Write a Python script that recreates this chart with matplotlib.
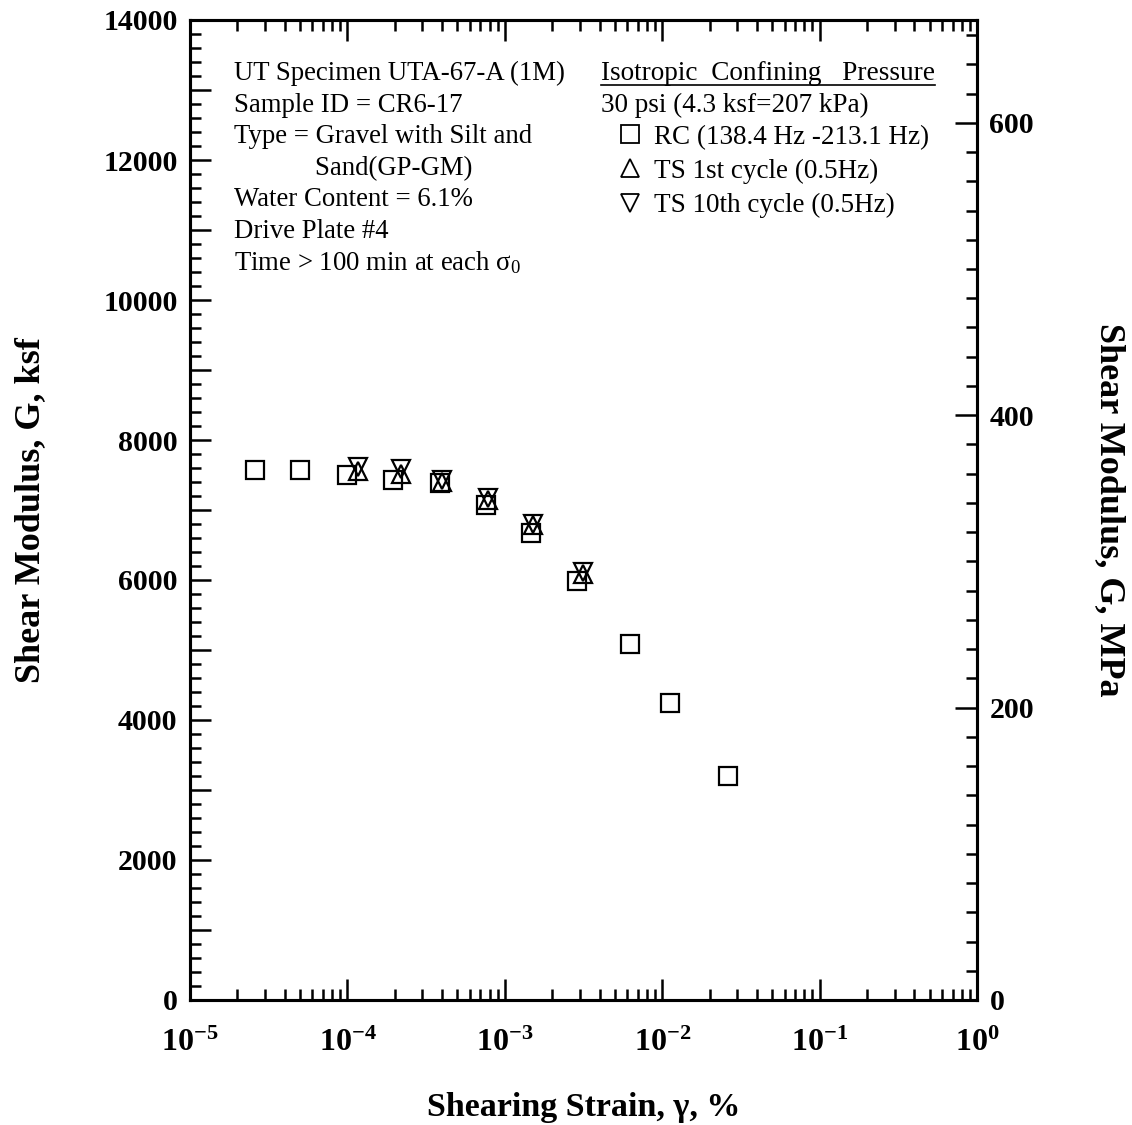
import matplotlib
matplotlib.use('Agg')
import matplotlib.pyplot as plt
from matplotlib.lines import Line2D
from matplotlib.ticker import LogLocator, MultipleLocator, NullFormatter

plt.rcParams['font.family'] = ['Liberation Serif', 'DejaVu Serif']
plt.rcParams['mathtext.fontset'] = 'custom'
plt.rcParams['mathtext.rm'] = 'Liberation Serif'
plt.rcParams['mathtext.it'] = 'Liberation Serif:italic'
plt.rcParams['mathtext.bf'] = 'Liberation Serif:bold'

# data (strain in %, G in ksf)
rc_strain = [2.6e-5, 5.0e-5, 9.9e-5, 1.96e-4, 3.85e-4, 7.6e-4, 1.47e-3, 2.88e-3, 6.2e-3, 1.12e-2, 2.63e-2]
rc_G = [7570, 7570, 7500, 7430, 7380, 7070, 6670, 5990, 5080, 4240, 3200]

ts1_strain = [1.17e-4, 2.18e-4, 4.0e-4, 7.8e-4, 1.51e-3, 3.14e-3]
ts1_G = [7560, 7510, 7400, 7150, 6780, 6090]

ts10_strain = [1.17e-4, 2.18e-4, 4.0e-4, 7.8e-4, 1.51e-3, 3.14e-3]
ts10_G = [7620, 7580, 7430, 7170, 6800, 6110]

info_lines = ['UT Specimen UTA-67-A (1M)', 'Sample ID = CR6-17', 'Type = Gravel with Silt and',
              '            Sand(GP-GM)', 'Water Content = 6.1%', 'Drive Plate #4',
              r'Time > 100 min at each σ$_0$']
legend_labels = ['RC (138.4 Hz -213.1 Hz)', 'TS 1st cycle (0.5Hz)', 'TS 10th cycle (0.5Hz)']

KSF_TO_MPA = 0.04788

fig = plt.figure(figsize=(11.32, 11.25), dpi=100)
ax = fig.add_axes([190 / 1132, 125 / 1125, 787 / 1132, 980 / 1125])

ms = 13
mew = 1.6
ax.plot(rc_strain, rc_G, ls='none', marker='s', ms=ms, mfc='none', mec='black', mew=mew)
ax.plot(ts1_strain, ts1_G, ls='none', marker='^', ms=ms, mfc='none', mec='black', mew=mew)
ax.plot(ts10_strain, ts10_G, ls='none', marker='v', ms=ms, mfc='none', mec='black', mew=mew)

ax.set_xscale('log')
ax.set_xlim(1e-5, 1)
ax.set_ylim(0, 14000)

ax.xaxis.set_minor_locator(LogLocator(base=10, subs=range(2, 10), numticks=20))
ax.xaxis.set_minor_formatter(NullFormatter())
ax.set_xticks([1e-5, 1e-4, 1e-3, 1e-2, 1e-1, 1])
ax.set_xticklabels([r'$\mathbf{10^{-5}}$', r'$\mathbf{10^{-4}}$', r'$\mathbf{10^{-3}}$',
                    r'$\mathbf{10^{-2}}$', r'$\mathbf{10^{-1}}$', r'$\mathbf{10^{0}}$'])

ax.yaxis.set_major_locator(MultipleLocator(1000))
ax.yaxis.set_minor_locator(MultipleLocator(200))

for s in ax.spines.values():
    s.set_linewidth(2.2)

ax.tick_params(which='both', direction='in', top=True, right=False, width=1.8)
ax.tick_params(which='major', length=15)
ax.tick_params(which='minor', length=8)
ax.tick_params(axis='y', which='major', labelsize=21.5, pad=9)
ax.tick_params(axis='x', which='major', labelsize=23, pad=21)

# label only the even thousands, shorter ticks at odd thousands
ax.yaxis.set_major_formatter(plt.FuncFormatter(lambda v, p: '%d' % v if int(v) % 2000 == 0 else ''))
for t in ax.yaxis.get_major_ticks():
    if int(round(t.get_loc())) % 2000 != 0:
        t.tick1line.set_markersize(11)
for lab in ax.get_yticklabels():
    lab.set_fontweight('bold')

ax2 = ax.twinx()
ax2.set_ylim(0, 14000 * KSF_TO_MPA)
ax2.yaxis.set_major_locator(MultipleLocator(200))
ax2.yaxis.set_minor_locator(MultipleLocator(20))
ax2.tick_params(which='both', direction='in', width=1.8)
ax2.tick_params(which='major', length=16, labelsize=21.5, pad=9)
ax2.tick_params(which='minor', length=8)
for lab in ax2.get_yticklabels():
    lab.set_fontweight('bold')
for s in ax2.spines.values():
    s.set_linewidth(2.2)

ax.set_xlabel('Shearing Strain, γ, %', fontsize=24.5, fontweight='bold', labelpad=24)
ax.set_ylabel('Shear Modulus, G, ksf', fontsize=26, fontweight='bold', labelpad=40)
ax2.set_ylabel('Shear Modulus, G, MPa', fontsize=26, fontweight='bold', rotation=-90, labelpad=66)

# sample info block
for i, line in enumerate(info_lines):
    ax.text(0.0559, 0.945 - i * 0.0321, line, transform=ax.transAxes, fontsize=19.3,
            ha='left', va='center')

hdr = ax.text(0.522, 0.945, 'Isotropic  Confining   Pressure', transform=ax.transAxes,
              fontsize=19.6, ha='left', va='center')
ax.text(0.522, 0.945 - 0.0321, '30 psi (4.3 ksf=207 kPa)', transform=ax.transAxes,
        fontsize=19.5, ha='left', va='center')

handles = [Line2D([], [], ls='none', marker=m, ms=ms, mfc='none', mec='black', mew=1.3)
           for m in ['s', '^', 'v']]
ax.legend(handles, legend_labels, loc='upper left', bbox_to_anchor=(0.5426, 0.893),
          frameon=False, fontsize=19.5, handlelength=0.95, handletextpad=0.42,
          labelspacing=0.33, borderpad=0, borderaxespad=0)

# underline the header
fig.canvas.draw()
bb = hdr.get_window_extent().transformed(fig.transFigure.inverted())
fig.add_artist(Line2D([bb.x0, bb.x1], [bb.y0 + 0.001, bb.y0 + 0.001], color='black', lw=1.2,
                      transform=fig.transFigure))

fig.savefig('out.png', dpi=100)
